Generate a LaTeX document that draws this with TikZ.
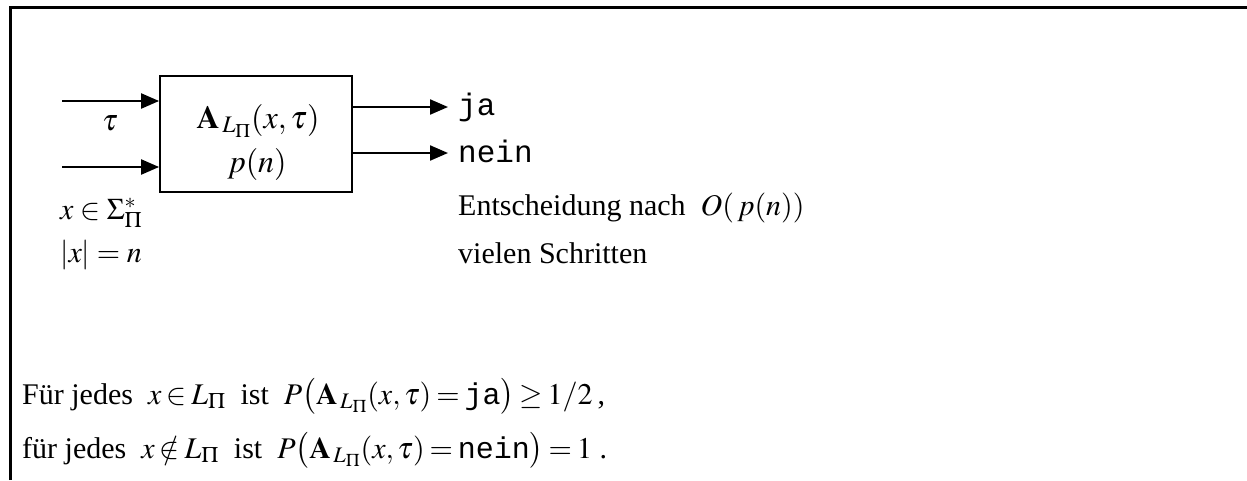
\documentclass[tikz,border=0pt]{standalone}
\usepackage{mathptmx}
\usepackage{fontspec}
\setmainfont{Liberation Serif}
\setmonofont{Liberation Mono}
\usetikzlibrary{arrows.meta}
\begin{document}
\begin{tikzpicture}[x=1pt,y=-1pt,
  txt/.style={inner sep=0pt, font=\fontsize{30}{36}\selectfont},
  boxtxt/.style={inner sep=0pt, font=\fontsize{32}{38}\selectfont},
  mono/.style={inner sep=0pt, font=\fontsize{31}{36}\selectfont\ttfamily},
  arr/.style={line width=2.2pt, -{Triangle[length=18pt,width=15pt]}},
  framel/.style={line width=3pt},
  boxst/.style={draw, line width=1.8pt, inner sep=0pt, minimum width=192pt, minimum height=116pt}]
\useasboundingbox (0,0) rectangle (1247,480);
% outer frame (top and left edges)
\draw[framel] (10,480) -- (10,7) -- (1247,7);
% the machine box
\node[boxst] (box) at (256,134) {};
\node[boxtxt, anchor=base] (alg) at (258,128) {$\mathbf{A}_{\,L_\Pi}(x,\tau)$};
\node[boxtxt, anchor=base] (pn) at (257,172) {$p(n)$};
% inputs
\coordinate (in1) at (62,101);
\coordinate (in2) at (62,167);
\draw[arr] (in1) -- (box.west |- in1);
\draw[arr] (in2) -- (box.west |- in2);
\node[txt, anchor=base] (tau) at (110,130) {$\tau$};
\node[txt, anchor=base west] (xin) at (60,219) {$x\in\Sigma_\Pi^*$};
\node[txt, anchor=base west] (xlen) at (60,262) {$|x|=n$};
% outputs
\coordinate (o1) at (448,107);
\coordinate (o2) at (448,153);
\draw[arr] (box.east |- o1) -- (o1);
\draw[arr] (box.east |- o2) -- (o2);
\node[mono, anchor=base west] (ja) at (458,115) {ja};
\node[mono, anchor=base west] (nein) at (458,162) {nein};
\node[txt, anchor=base west] (ent) at (458,215) {Entscheidung nach\ \ $O(\,p(n))$};
\node[txt, anchor=base west] (viel) at (458,263) {vielen Schritten};
% bottom statements
\node[txt, anchor=base west] (l1) at (22,404) {\thickmuskip=3mu Für jedes\ \ $x\in L_\Pi$\ \ ist\ \ $P\bigl(\mathbf{A}_{\,L_\Pi}(x,\tau)=\texttt{ja}\bigr)\ge 1/2$\,,};
\node[txt, anchor=base west] (l2) at (22,458) {\thickmuskip=3mu für jedes\ \ $x\notin L_\Pi$\ \ ist\ \ $P\bigl(\mathbf{A}_{\,L_\Pi}(x,\tau)=\texttt{nein}\bigr)=1$ .};
\end{tikzpicture}
\end{document}
